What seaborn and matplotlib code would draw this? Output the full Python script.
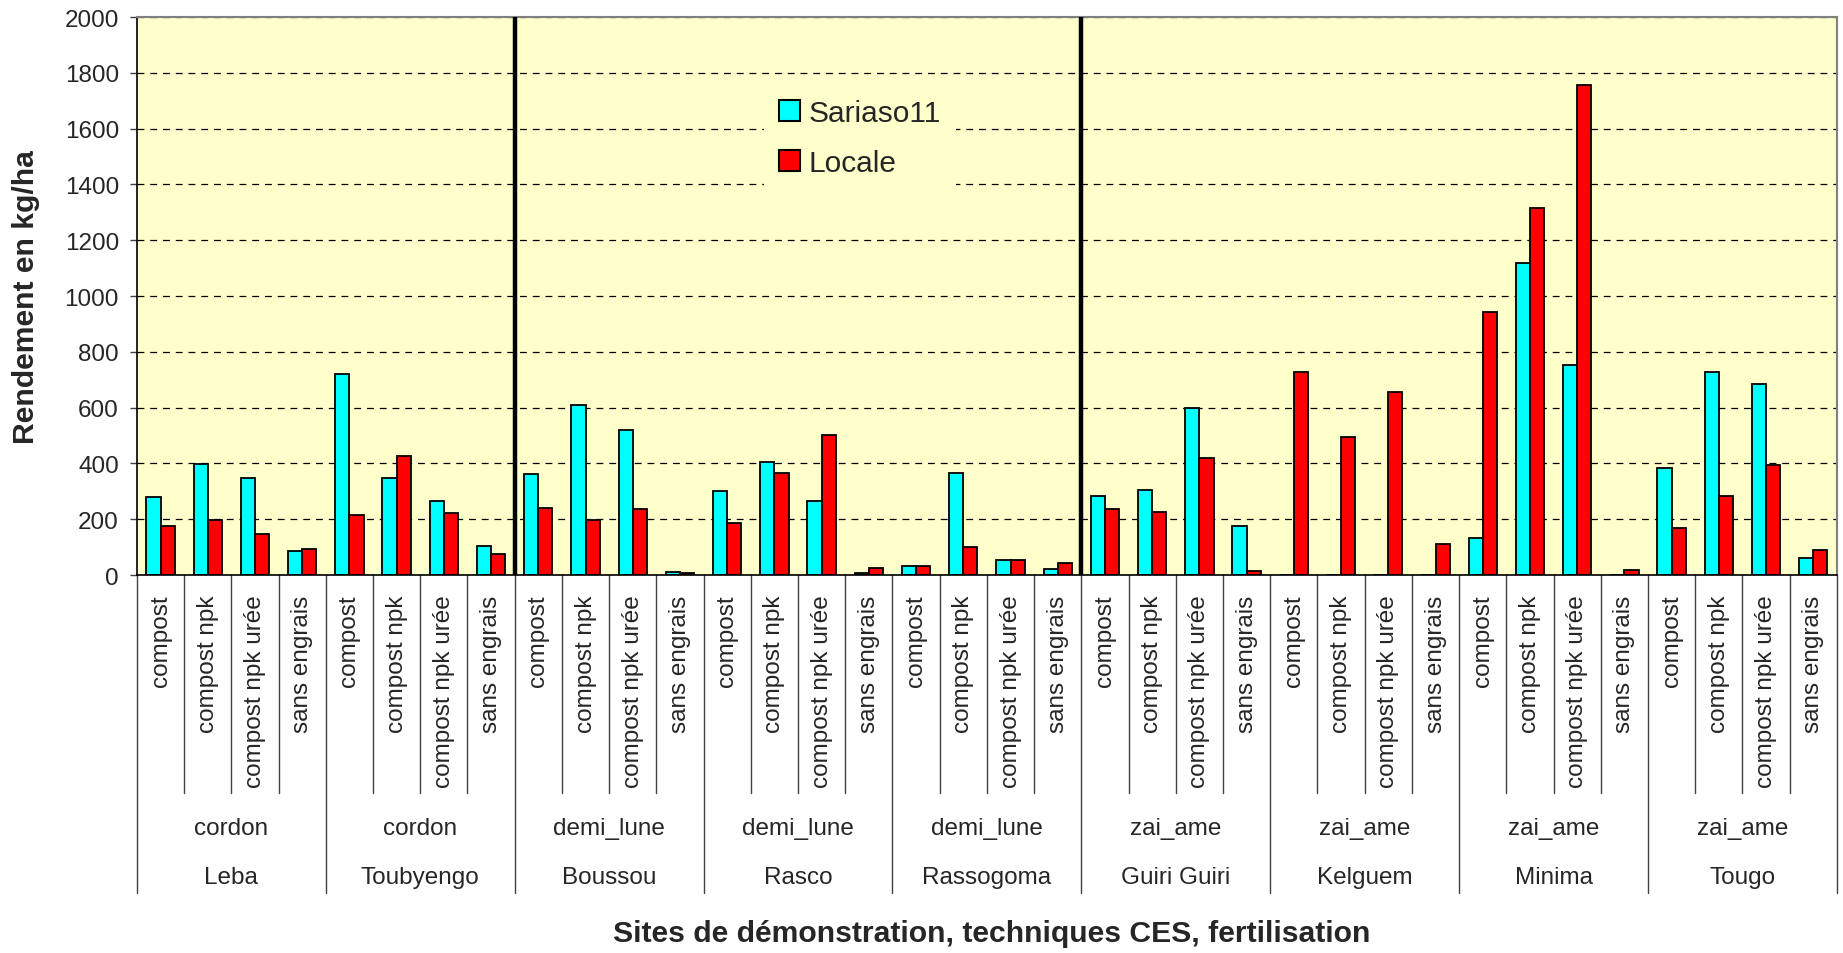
import matplotlib
matplotlib.use("Agg")
import matplotlib.pyplot as plt
import matplotlib.transforms as mtransforms
import pandas as pd
import seaborn as sns

# Demonstration sites, soil/water conservation technique per site, fertilisation
sites = ["Leba", "Toubyengo", "Boussou", "Rasco", "Rassogoma",
         "Guiri Guiri", "Kelguem", "Minima", "Tougo"]
techniques = ["cordon", "cordon", "demi_lune", "demi_lune", "demi_lune",
              "zai_ame", "zai_ame", "zai_ame", "zai_ame"]
fertilisation = ["compost", "compost npk", "compost npk urée", "sans engrais"]
varieties = ["Sariaso11", "Locale"]

# Yields (kg/ha), one value per site x fertilisation, in site order
sariaso11 = [279, 397, 348, 85,
             720, 349, 267, 103,
             362, 608, 519, 12,
             301, 404, 264, 6,
             32, 367, 53, 22,
             285, 304, 599, 177,
             0, 0, 0, 0,
             132, 1118, 752, 0,
             382, 726, 686, 60]
locale = [177, 197, 147, 92,
          215, 427, 223, 75,
          241, 196, 238, 8,
          188, 364, 501, 26,
          32, 99, 53, 44,
          236, 225, 421, 14,
          729, 493, 655, 112,
          941, 1314, 1756, 19,
          167, 284, 393, 89]

yticks = list(range(0, 2001, 200))

keys = [f"{s}|{f}" for s in sites for f in fertilisation]
df = pd.DataFrame({
    "cle": keys * 2,
    "variete": [varieties[0]] * len(keys) + [varieties[1]] * len(keys),
    "rendement": sariaso11 + locale,
})

sns.set_theme(style="ticks")
plt.rcParams["font.family"] = ["Liberation Sans", "DejaVu Sans"]

fig = plt.figure(figsize=(18.43, 9.54), dpi=100)
ax = fig.add_axes([0.0743, 0.3962, 0.9224, 0.5849])
ax.set_facecolor("#FFFFCC")

sns.barplot(data=df, x="cle", y="rendement", hue="variete", order=keys,
            hue_order=varieties, palette=["#00FFFF", "#FF0000"],
            saturation=1, width=0.6, edgecolor="black", linewidth=1.3,
            errorbar=None, ax=ax)

ax.set_xlim(-0.5, len(keys) - 0.5)
ax.set_ylim(0, 2000)
ax.set_yticks(yticks)
ax.set_yticklabels([str(v) for v in yticks], fontsize=17.5)
ax.tick_params(axis="y", direction="out", length=5, width=1, pad=8, color="#404040")
ax.set_xticks(range(len(keys)))
ax.set_xticklabels([f for _ in sites for f in fertilisation],
                   rotation=90, fontsize=17.5, va="top", ha="center")
ax.tick_params(axis="x", length=0, pad=14)

ax.set_axisbelow(True)
ax.yaxis.grid(True, color="black", linestyle=(0, (5.5, 4.7)), linewidth=0.9)
ax.xaxis.grid(False)

for side in ("top", "right"):
    ax.spines[side].set_color("#808080")
    ax.spines[side].set_linewidth(1.5)
for side in ("left", "bottom"):
    ax.spines[side].set_color("black")
    ax.spines[side].set_linewidth(1.2)

# Heavy dividers between technique families
for xb in (7.5, 19.5):
    ax.axvline(xb, color="black", lw=3.2, zorder=4)

# Multi-level category axis: cell borders, technique and site rows
trans = mtransforms.blended_transform_factory(ax.transData, ax.transAxes)
for i in range(len(keys) + 1):
    bottom = -0.570 if i % 4 == 0 else -0.391
    ax.plot([i - 0.5, i - 0.5], [0, bottom], transform=trans,
            color="#404040", lw=1, clip_on=False)
for g, (site, tech) in enumerate(zip(sites, techniques)):
    xc = 4 * g + 1.5
    ax.text(xc, -0.454, tech, transform=trans, ha="center", va="center", fontsize=17.5)
    ax.text(xc, -0.541, site, transform=trans, ha="center", va="center", fontsize=17.5)

ax.set_xlabel("Sites de démonstration, techniques CES, fertilisation",
              fontsize=21.7, fontweight="bold", va="center")
ax.xaxis.set_label_coords(0.503, -0.642)
ax.set_ylabel("Rendement en kg/ha", fontsize=21.7, fontweight="bold", va="center")
ax.yaxis.set_label_coords(-0.065, 0.5)

handles, labels = ax.get_legend_handles_labels()
leg = ax.legend(handles, labels, loc="upper left",
                bbox_to_anchor=(764 / 1843, 1 - 85 / 954),
                bbox_transform=fig.transFigure, borderaxespad=0,
                fontsize=21.5, handlelength=0.7, handleheight=0.7,
                handletextpad=0.3, labelspacing=0.75, borderpad=0.5,
                frameon=True, fancybox=False, framealpha=1)
leg.get_frame().set_facecolor("#FFFFCC")
leg.get_frame().set_edgecolor("none")
for h in leg.get_patches():
    h.set_edgecolor("black")
    h.set_linewidth(1.5)

fig.savefig("out.png", dpi=100, facecolor="white")
